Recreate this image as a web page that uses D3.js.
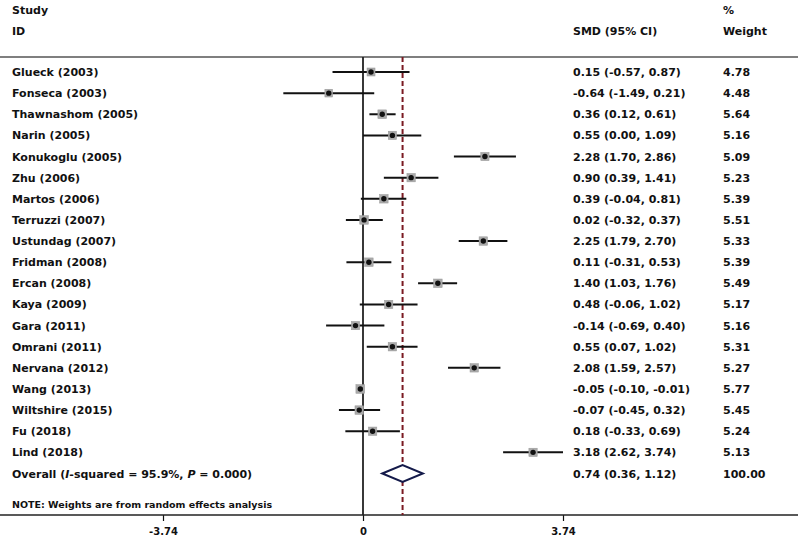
<!DOCTYPE html>
<html><head><meta charset="utf-8">
<script src="https://cdn.jsdelivr.net/npm/d3@7"></script>
<style>body{margin:0;background:#fff}svg{display:block}text{font-family:"DejaVu Sans",sans-serif;font-weight:bold;font-size:11px;fill:#111}</style>
</head><body><svg id="c" width="802" height="540"></svg>
<script>
const studies = ["Glueck (2003)","Fonseca (2003)","Thawnashom (2005)","Narin (2005)","Konukoglu (2005)","Zhu (2006)","Martos (2006)","Terruzzi (2007)","Ustundag (2007)","Fridman (2008)","Ercan (2008)","Kaya (2009)","Gara (2011)","Omrani (2011)","Nervana (2012)","Wang (2013)","Wiltshire (2015)","Fu (2018)","Lind (2018)"];
const smd   = [0.15,-0.64,0.36,0.55,2.28,0.90,0.39,0.02,2.25,0.11,1.40,0.48,-0.14,0.55,2.08,-0.05,-0.07,0.18,3.18];
const lower = [-0.57,-1.49,0.12,0.00,1.70,0.39,-0.04,-0.32,1.79,-0.31,1.03,-0.06,-0.69,0.07,1.59,-0.10,-0.45,-0.33,2.62];
const upper = [0.87,0.21,0.61,1.09,2.86,1.41,0.81,0.37,2.70,0.53,1.76,1.02,0.40,1.02,2.57,-0.01,0.32,0.69,3.74];
const weights = [4.78,4.48,5.64,5.16,5.09,5.23,5.39,5.51,5.33,5.39,5.49,5.17,5.16,5.31,5.27,5.77,5.45,5.24,5.13];
const overall = {smd:0.74, lo:0.36, hi:1.12, weight:"100.00"};
const tickValues = [-3.74, 0, 3.74];

const svg = d3.select("#c");
const x = d3.scaleLinear().domain([-3.74, 3.74]).range([163, 563]);
const y = d3.scaleLinear().domain([0, 19]).range([72, 473.5]);
const fmt = v => d3.format(".2f")(v).replace("\u2212","-");
const ci = (m,l,u) => `${fmt(m)} (${fmt(l)}, ${fmt(u)})`;
const colCI = 573, colW = 723;

// headers
svg.append("text").attr("x",12).attr("y",14).text("Study");
svg.append("text").attr("x",12).attr("y",35).text("ID");
svg.append("text").attr("x",colCI).attr("y",35).text("SMD (95% CI)");
svg.append("text").attr("x",colW).attr("y",14).text("%");
svg.append("text").attr("x",colW).attr("y",35).text("Weight");
svg.append("line").attr("x1",0).attr("x2",798).attr("y1",57).attr("y2",57).attr("stroke","#555").attr("stroke-width",1.5);

// axis
const axisY = 515;
const ax = svg.append("g").attr("transform",`translate(0,${axisY})`)
  .call(d3.axisBottom(x).tickValues(tickValues).tickFormat(d=>d===0?"0":fmt(d)).tickSize(6).tickSizeOuter(0));
ax.select(".domain").remove();
ax.selectAll(".tick line").attr("stroke","#111").attr("stroke-width",1.2);
ax.selectAll(".tick text").attr("dy","1.05em").style("font-size","10px").style("font-weight","bold").style("font-family","DejaVu Sans, sans-serif");
svg.append("line").attr("x1",0).attr("x2",798).attr("y1",axisY).attr("y2",axisY).attr("stroke","#222").attr("stroke-width",1.5);

// zero line
svg.append("line").attr("x1",x(0)).attr("x2",x(0)).attr("y1",57).attr("y2",axisY).attr("stroke","#222").attr("stroke-width",1.8);
// overall dashed line
svg.append("line").attr("x1",x(overall.smd)).attr("x2",x(overall.smd)).attr("y1",57).attr("y2",axisY)
  .attr("stroke","#7a1a22").attr("stroke-width",2).attr("stroke-dasharray","5,3");

// study rows
const sq = d3.scaleSqrt().domain([0, 6]).range([0, 9]);
studies.forEach((s,i)=>{
  const yy = y(i);
  svg.append("text").attr("x",12).attr("y",yy+4).text(s);
  svg.append("line").attr("x1",x(lower[i])).attr("x2",x(upper[i])).attr("y1",yy).attr("y2",yy).attr("stroke","#111").attr("stroke-width",2);
  const w = sq(weights[i]);
  svg.append("rect").attr("x",x(smd[i])-w/2).attr("y",yy-w/2).attr("width",w).attr("height",w).attr("fill","#aaa").attr("stroke","#999").attr("stroke-width",0.5);
  svg.append("circle").attr("cx",x(smd[i])).attr("cy",yy).attr("r",2.7).attr("fill","#111");
  svg.append("text").attr("x",colCI).attr("y",yy+4).text(ci(smd[i],lower[i],upper[i]));
  svg.append("text").attr("x",colW).attr("y",yy+4).text(fmt(weights[i]));
});

// overall
const oy = y(19);
const ot = svg.append("text").attr("x",12).attr("y",oy+4);
ot.append("tspan").text("Overall  (");
ot.append("tspan").attr("font-style","italic").text("I");
ot.append("tspan").text("-squared = 95.9%, ");
ot.append("tspan").attr("font-style","italic").text("P");
ot.append("tspan").text(" = 0.000)");
svg.append("path").attr("d",`M${x(overall.lo)},${oy} L${x(overall.smd)},${oy-8.5} L${x(overall.hi)},${oy} L${x(overall.smd)},${oy+8.5} Z`)
  .attr("fill","#fff").attr("stroke","#141a4a").attr("stroke-width",2);
svg.append("text").attr("x",colCI).attr("y",oy+4).text(ci(overall.smd,overall.lo,overall.hi));
svg.append("text").attr("x",colW).attr("y",oy+4).text(overall.weight);

svg.append("text").attr("x",12).attr("y",508).style("font-size","9.5px").text("NOTE: Weights are from random effects analysis");
</script></body></html>
